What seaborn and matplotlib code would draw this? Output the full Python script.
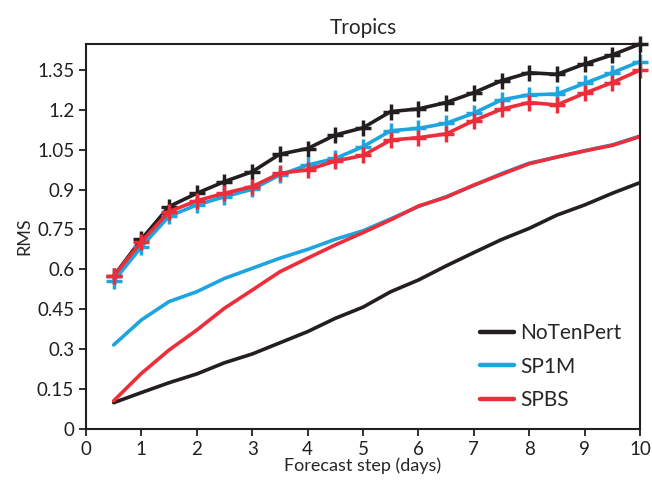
import numpy as np
import pandas as pd
import matplotlib
matplotlib.use("Agg")
import matplotlib.pyplot as plt
import seaborn as sns

# forecast steps (days)
steps = [0.5, 1.0, 1.5, 2.0, 2.5, 3.0, 3.5, 4.0, 4.5, 5.0,
         5.5, 6.0, 6.5, 7.0, 7.5, 8.0, 8.5, 9.0, 9.5, 10.0]

# upper curves (with + markers)
notenpert_up = [0.575, 0.713, 0.836, 0.886, 0.930, 0.967, 1.033, 1.054, 1.105, 1.132,
                1.193, 1.203, 1.227, 1.264, 1.309, 1.339, 1.333, 1.372, 1.406, 1.447]
sp1m_up = [0.556, 0.685, 0.800, 0.842, 0.873, 0.901, 0.955, 0.992, 1.017, 1.061,
           1.121, 1.130, 1.149, 1.187, 1.237, 1.256, 1.259, 1.299, 1.339, 1.381]
spbs_up = [0.575, 0.704, 0.817, 0.858, 0.886, 0.911, 0.961, 0.974, 1.007, 1.028,
           1.086, 1.095, 1.109, 1.159, 1.202, 1.227, 1.218, 1.262, 1.302, 1.349]

# lower curves (no markers)
notenpert_lo = [0.099, 0.137, 0.174, 0.207, 0.249, 0.282, 0.324, 0.366, 0.416, 0.458,
                0.516, 0.560, 0.613, 0.663, 0.712, 0.754, 0.804, 0.842, 0.886, 0.926]
sp1m_lo = [0.316, 0.410, 0.479, 0.516, 0.566, 0.604, 0.642, 0.675, 0.713, 0.745,
           0.790, 0.836, 0.873, 0.915, 0.960, 0.999, 1.022, 1.046, 1.068, 1.101]
spbs_lo = [0.106, 0.209, 0.297, 0.372, 0.454, 0.522, 0.591, 0.642, 0.692, 0.738,
           0.786, 0.838, 0.871, 0.917, 0.957, 0.997, 1.022, 1.045, 1.066, 1.099]

names  = ["NoTenPert", "SP1M", "SPBS"]
colors = ["#231f20", "#1ea4df", "#ee2d3a"]

yticks = [0, 0.15, 0.3, 0.45, 0.6, 0.75, 0.9, 1.05, 1.2, 1.35]
ytick_labels = ["0", "0.15", "0.3", "0.45", "0.6", "0.75", "0.9", "1.05", "1.2", "1.35"]

sns.set_style("ticks")
plt.rcParams['font.family'] = ['Lato', 'DejaVu Sans']

fig = plt.figure(figsize=(6.52, 4.92), dpi=100)
ax = fig.add_axes([0.1319, 0.128, 0.8497, 0.7826])

ups = [notenpert_up, sp1m_up, spbs_up]
los = [notenpert_lo, sp1m_lo, spbs_lo]

for name, col, lo in zip(names, colors, los):
    sns.lineplot(x=steps, y=lo, ax=ax, color=col, linewidth=2.6, label=name)

for name, col, up in zip(names, colors, ups):
    sns.lineplot(x=steps, y=up, ax=ax, color=col, linewidth=2.6,
                 marker="+", markersize=11, markeredgewidth=2.5,
                 markeredgecolor=col, label="_nolegend_", clip_on=False)

ax.set_xlim(0, 10)
ax.set_ylim(0, 1.447)
ax.set_xticks(range(0, 11))
ax.set_yticks(yticks)
ax.set_yticklabels(ytick_labels)
ax.tick_params(direction="out", length=5, width=1.3, labelsize=13.5, colors="#231f20")
for sp in ax.spines.values():
    sp.set_visible(True)
    sp.set_linewidth(1.5)
    sp.set_color("#231f20")

ax.set_xlabel("Forecast step (days)", fontsize=13, labelpad=0)
ax.set_ylabel("RMS", fontsize=13, labelpad=3)
ax.set_title("Tropics", fontsize=15, pad=7)

leg = ax.legend(loc="lower right", frameon=False, fontsize=15, handlelength=1.6,
                handletextpad=0.3, labelspacing=0.65, borderaxespad=0.5)
for h in leg.get_lines():
    h.set_linewidth(3.2)

fig.savefig("out.png", dpi=100)
